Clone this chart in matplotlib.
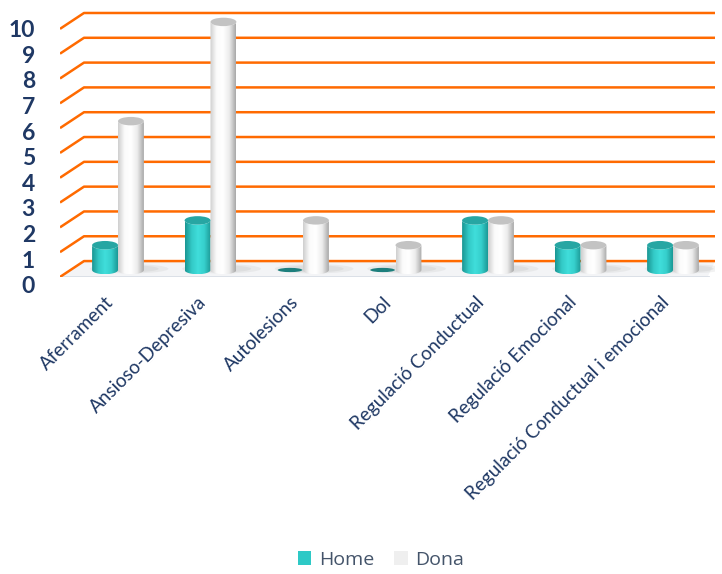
import matplotlib.pyplot as plt
import numpy as np
from matplotlib.path import Path
from matplotlib.patches import PathPatch, Ellipse, Polygon, Patch
from matplotlib.colors import LinearSegmentedColormap

categories = ['Aferrament', 'Ansioso-Depresiva', 'Autolesions', 'Dol',
              'Regulació Conductual', 'Regulació Emocional',
              'Regulació Conductual i emocional']
home = [1, 2, 0, 0, 2, 1, 1]
dona = [6, 10, 2, 1, 2, 1, 1]
yticks = list(range(0, 11))

navy = '#1f3864'
orange = '#ff6a00'

fig = plt.figure(figsize=(7.22, 5.74), dpi=100)
ax = fig.add_axes([60/722, 1-277/574, 655/722, 266/574])
xmin, xmax = -0.627, 6.454
ymin, ymax = -0.282, 10.44
ax.axis('off')

# depth of the floor / perspective offsets
back_dx = 24/92.5
back_dy = 0.36
front_dy = -0.28

# floor
floor = Polygon([[xmin, front_dy], [xmin + back_dx, back_dy], [xmax, back_dy],
                 [xmax - 0.08, front_dy]], closed=True, fc='#f3f4f6', ec='none', zorder=0)
ax.add_patch(floor)
ax.plot([xmin, xmax - 0.08], [front_dy, front_dy], color='#d9dee6', lw=2, zorder=1)

# gridlines on back wall + side
for v in yticks:
    ax.plot([xmin, xmin + back_dx, xmax], [v + front_dy, v + back_dy, v + back_dy],
            color=orange, lw=1.8, zorder=1, solid_capstyle='butt')
    # tick labels sit a bit wider apart than the gridline ends
    ylab = (270 - (30.8 + 25.6 * (10 - v))) / 24.8
    ax.text(xmin - 0.27, ylab, str(v), ha='right', va='center',
            fontsize=16.5, fontweight='bold', color=navy, family='Lato')

teal_cmap = LinearSegmentedColormap.from_list('teal', ['#1a9693', '#33c9c6', '#40dedb', '#36cfcc', '#1c9a97'])
white_cmap = LinearSegmentedColormap.from_list('wh', ['#cfcfcf', '#fbfbfb', '#ffffff', '#ececec', '#a9a9a9'])
grad = np.linspace(0, 1, 64).reshape(1, -1)

bw = 0.28
eh = 0.34


def cylinder(xc, h, cmap, top_color, zero_color):
    a = bw / 2
    b = eh / 2
    if h <= 0:
        ax.add_patch(Ellipse((xc, 0), bw * 0.95, eh * 0.5, fc=zero_color, ec='none', zorder=4))
        return
    t = np.linspace(0, np.pi, 40)
    pts = [(xc - a, h)]
    pts += list(zip(xc - a * np.cos(t), -b * np.sin(t)))
    pts += [(xc + a, h)]
    pts += list(zip(xc + a * np.cos(t), h - b * np.sin(t)))
    path = Path(pts, closed=False)
    patch = PathPatch(path, fc='none', ec='none', zorder=3)
    ax.add_patch(patch)
    im = ax.imshow(grad, cmap=cmap, extent=[xc - a, xc + a, -b, h + b], aspect='auto',
                   zorder=3, interpolation='bilinear')
    im.set_clip_path(patch)
    ax.add_patch(Ellipse((xc, h), bw, eh, fc=top_color, ec='none', zorder=4))


for i in range(len(categories)):
    # soft floor shadow
    for k, al in [(1.0, 0.18), (0.75, 0.22)]:
        ax.add_patch(Ellipse((i + 0.12, 0.05), 0.85 * k, 0.38 * k, fc='#b8b8b8', ec='none',
                             alpha=al, zorder=2))
    cylinder(i - bw / 2, home[i], teal_cmap, '#27a6a3', '#1d7f7d')
    cylinder(i + bw / 2, dona[i], white_cmap, '#c3c3c3', '#d0d0d0')

for i, c in enumerate(categories):
    ax.text(i - 0.14, -0.95, c, rotation=45, rotation_mode='anchor', ha='right', va='top',
            fontsize=13.6, color=navy, family='Lato')

ax.set_xlim(xmin, xmax)
ax.set_ylim(ymin, ymax)

handles = [Patch(fc='#2ec9c6', ec='none', label='Home'),
           Patch(fc='#efefef', ec='none', label='Dona')]
fig.legend(handles=handles, loc='center', bbox_to_anchor=(381/722, 1-560/574), ncol=2,
           frameon=False, handlelength=0.7, handleheight=0.7,
           handletextpad=0.4, columnspacing=1.0, labelcolor='#44546a',
           prop={'family': 'Open Sans', 'size': 14})

fig.savefig('out.png', dpi=100)
